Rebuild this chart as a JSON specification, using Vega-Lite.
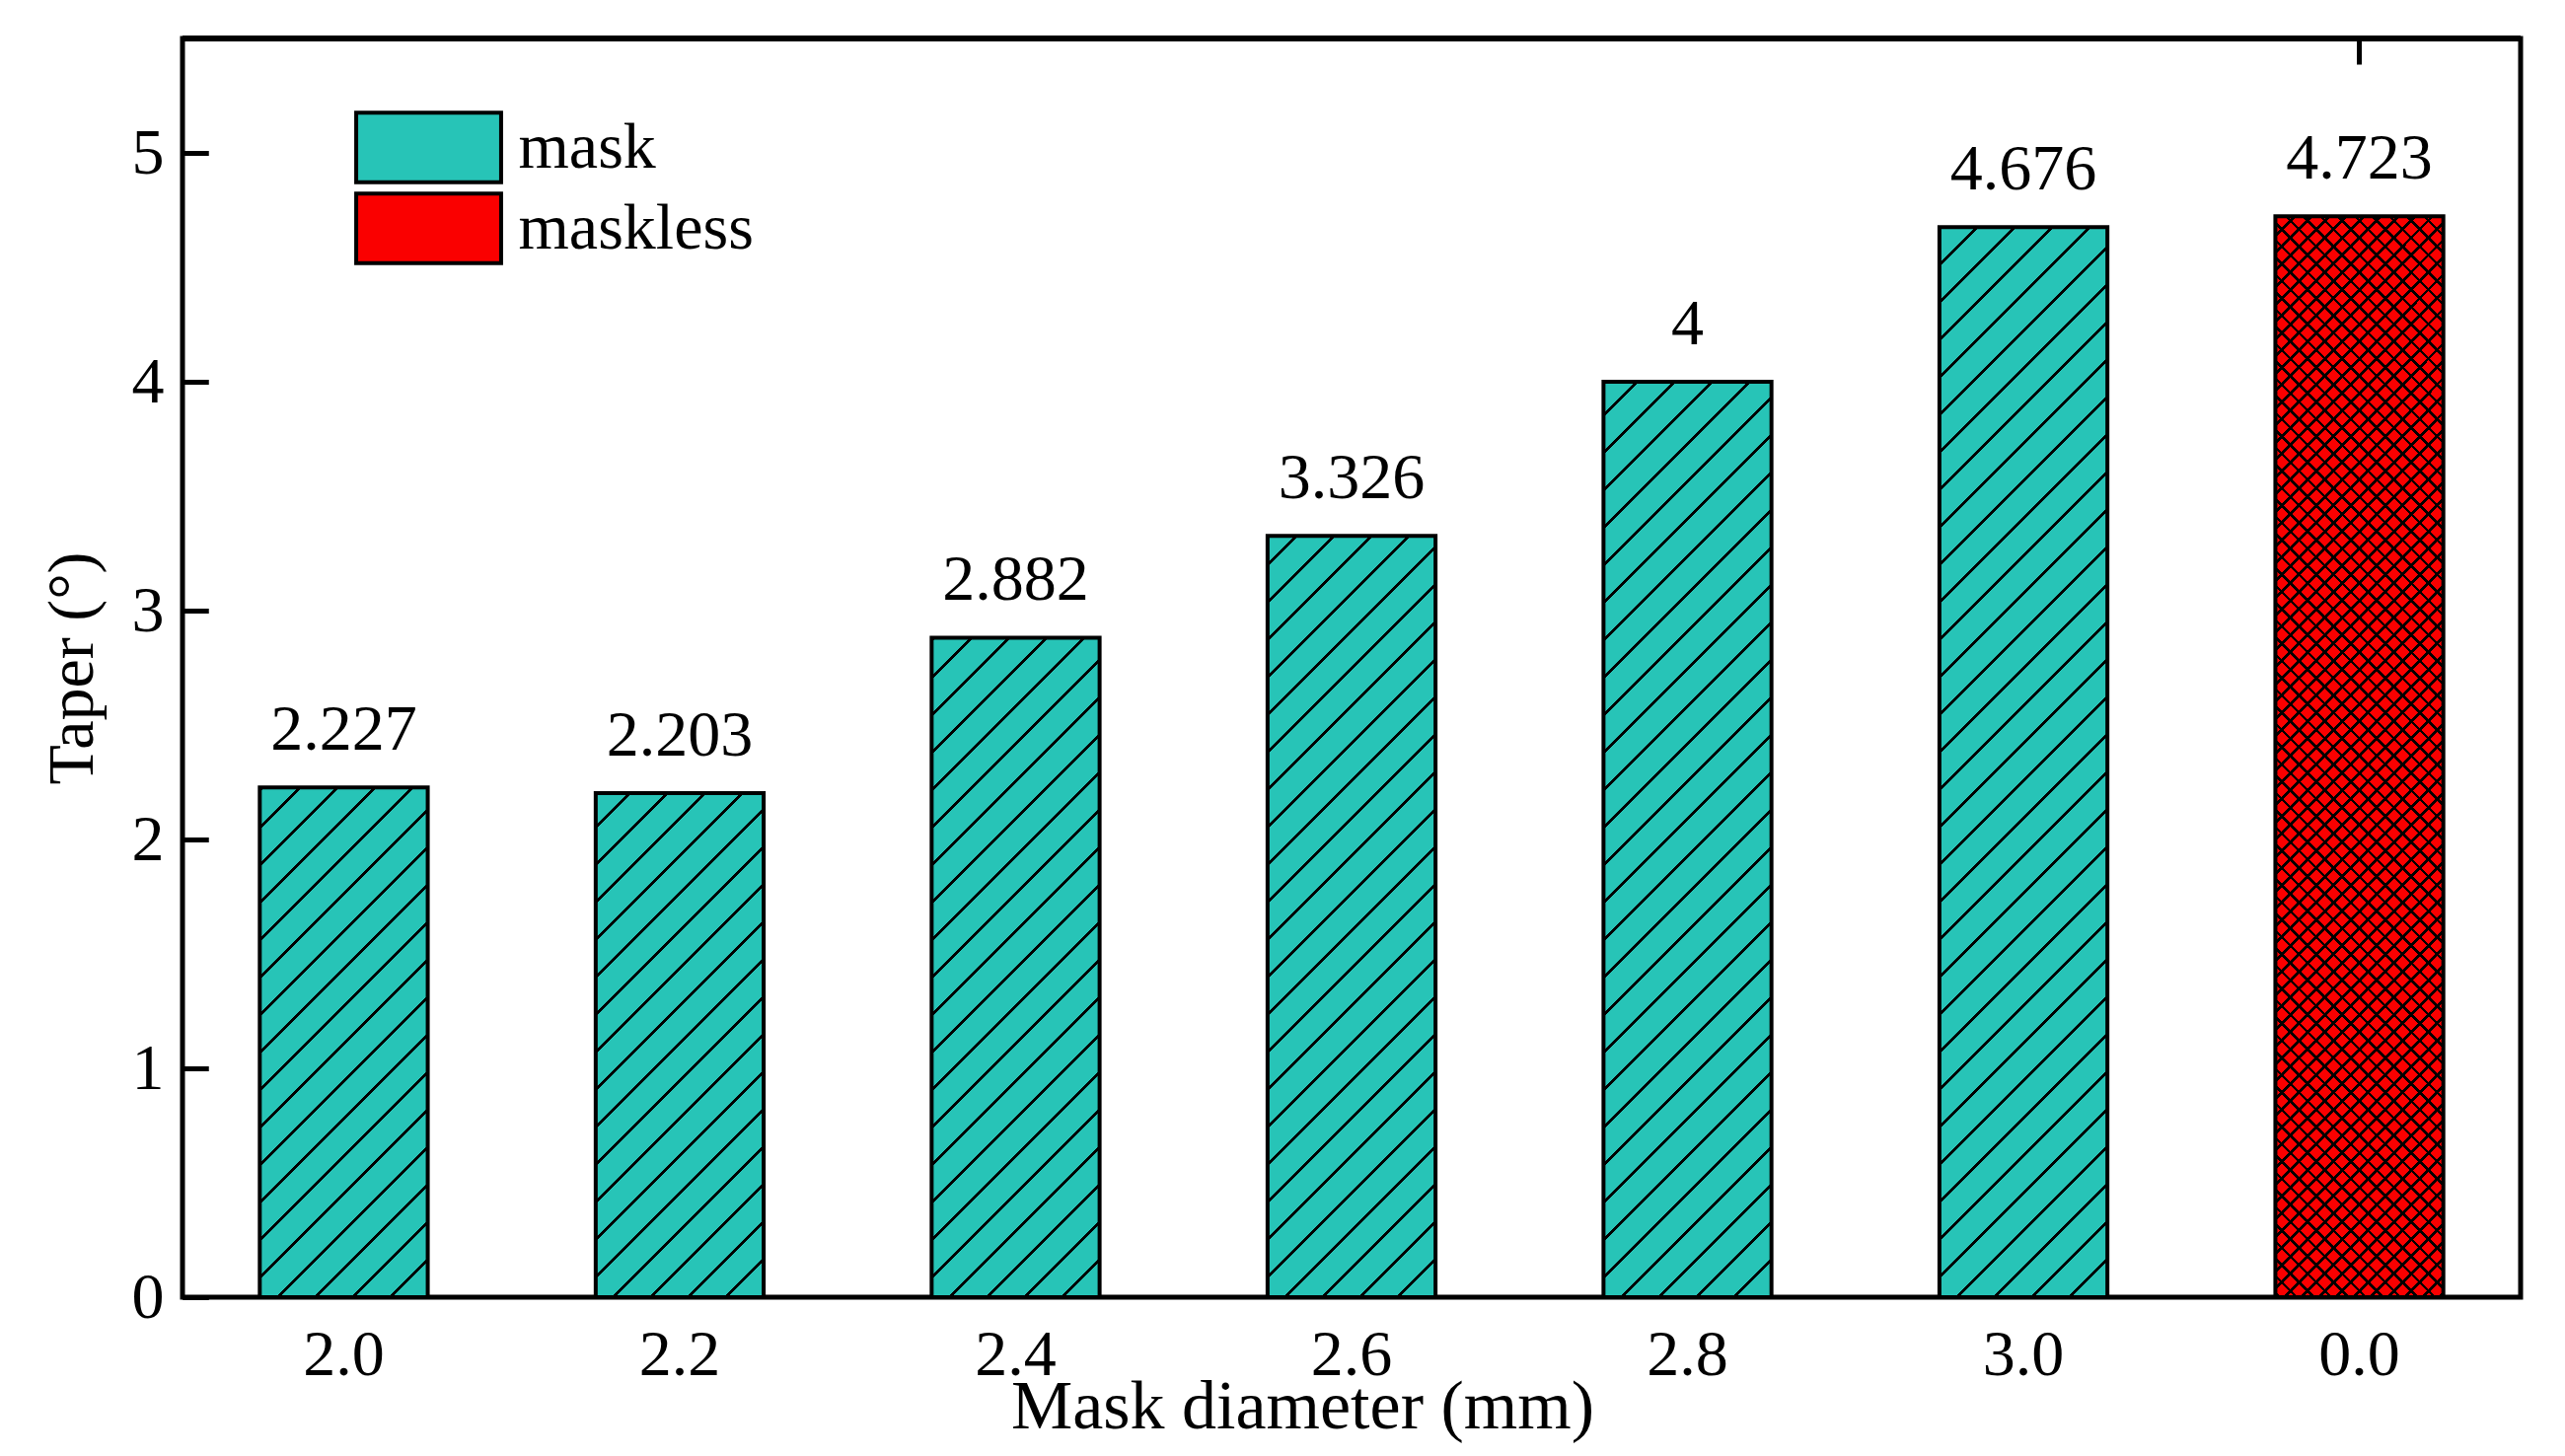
{
"$schema": "https://vega.github.io/schema/vega-lite/v6.json",
"width": 2370, "height": 1276,
"autosize": "none",
"padding": {"left": 185, "top": 39, "right": 45, "bottom": 161},
"background": "white",
"params": [{"name": "xs", "value": [
{"offset":0,"color":"#000"},{"offset":0.0022,"color":"#000"},{"offset":0.0022,"color":"#0000"},{"offset":0.01,"color":"#0000"},
{"offset":0.01,"color":"#000"},{"offset":0.0122,"color":"#000"},{"offset":0.0122,"color":"#0000"},{"offset":0.02,"color":"#0000"},
{"offset":0.02,"color":"#000"},{"offset":0.0222,"color":"#000"},{"offset":0.0222,"color":"#0000"},{"offset":0.03,"color":"#0000"},
{"offset":0.03,"color":"#000"},{"offset":0.0322,"color":"#000"},{"offset":0.0322,"color":"#0000"},{"offset":0.04,"color":"#0000"},
{"offset":0.04,"color":"#000"},{"offset":0.0422,"color":"#000"},{"offset":0.0422,"color":"#0000"},{"offset":0.05,"color":"#0000"},
{"offset":0.05,"color":"#000"},{"offset":0.0522,"color":"#000"},{"offset":0.0522,"color":"#0000"},{"offset":0.06,"color":"#0000"},
{"offset":0.06,"color":"#000"},{"offset":0.0622,"color":"#000"},{"offset":0.0622,"color":"#0000"},{"offset":0.07,"color":"#0000"},
{"offset":0.07,"color":"#000"},{"offset":0.0722,"color":"#000"},{"offset":0.0722,"color":"#0000"},{"offset":0.08,"color":"#0000"},
{"offset":0.08,"color":"#000"},{"offset":0.0822,"color":"#000"},{"offset":0.0822,"color":"#0000"},{"offset":0.09,"color":"#0000"},
{"offset":0.09,"color":"#000"},{"offset":0.0922,"color":"#000"},{"offset":0.0922,"color":"#0000"},{"offset":0.1,"color":"#0000"},
{"offset":0.1,"color":"#000"},{"offset":0.1022,"color":"#000"},{"offset":0.1022,"color":"#0000"},{"offset":0.11,"color":"#0000"},
{"offset":0.11,"color":"#000"},{"offset":0.1122,"color":"#000"},{"offset":0.1122,"color":"#0000"},{"offset":0.12,"color":"#0000"},
{"offset":0.12,"color":"#000"},{"offset":0.1222,"color":"#000"},{"offset":0.1222,"color":"#0000"},{"offset":0.13,"color":"#0000"},
{"offset":0.13,"color":"#000"},{"offset":0.1322,"color":"#000"},{"offset":0.1322,"color":"#0000"},{"offset":0.14,"color":"#0000"},
{"offset":0.14,"color":"#000"},{"offset":0.1422,"color":"#000"},{"offset":0.1422,"color":"#0000"},{"offset":0.15,"color":"#0000"},
{"offset":0.15,"color":"#000"},{"offset":0.1522,"color":"#000"},{"offset":0.1522,"color":"#0000"},{"offset":0.16,"color":"#0000"},
{"offset":0.16,"color":"#000"},{"offset":0.1622,"color":"#000"},{"offset":0.1622,"color":"#0000"},{"offset":0.17,"color":"#0000"},
{"offset":0.17,"color":"#000"},{"offset":0.1722,"color":"#000"},{"offset":0.1722,"color":"#0000"},{"offset":0.18,"color":"#0000"},
{"offset":0.18,"color":"#000"},{"offset":0.1822,"color":"#000"},{"offset":0.1822,"color":"#0000"},{"offset":0.19,"color":"#0000"},
{"offset":0.19,"color":"#000"},{"offset":0.1922,"color":"#000"},{"offset":0.1922,"color":"#0000"},{"offset":0.2,"color":"#0000"},
{"offset":0.2,"color":"#000"},{"offset":0.2022,"color":"#000"},{"offset":0.2022,"color":"#0000"},{"offset":0.21,"color":"#0000"},
{"offset":0.21,"color":"#000"},{"offset":0.2122,"color":"#000"},{"offset":0.2122,"color":"#0000"},{"offset":0.22,"color":"#0000"},
{"offset":0.22,"color":"#000"},{"offset":0.2222,"color":"#000"},{"offset":0.2222,"color":"#0000"},{"offset":0.23,"color":"#0000"},
{"offset":0.23,"color":"#000"},{"offset":0.2322,"color":"#000"},{"offset":0.2322,"color":"#0000"},{"offset":0.24,"color":"#0000"},
{"offset":0.24,"color":"#000"},{"offset":0.2422,"color":"#000"},{"offset":0.2422,"color":"#0000"},{"offset":0.25,"color":"#0000"},
{"offset":0.25,"color":"#000"},{"offset":0.2522,"color":"#000"},{"offset":0.2522,"color":"#0000"},{"offset":0.26,"color":"#0000"},
{"offset":0.26,"color":"#000"},{"offset":0.2622,"color":"#000"},{"offset":0.2622,"color":"#0000"},{"offset":0.27,"color":"#0000"},
{"offset":0.27,"color":"#000"},{"offset":0.2722,"color":"#000"},{"offset":0.2722,"color":"#0000"},{"offset":0.28,"color":"#0000"},
{"offset":0.28,"color":"#000"},{"offset":0.2822,"color":"#000"},{"offset":0.2822,"color":"#0000"},{"offset":0.29,"color":"#0000"},
{"offset":0.29,"color":"#000"},{"offset":0.2922,"color":"#000"},{"offset":0.2922,"color":"#0000"},{"offset":0.3,"color":"#0000"},
{"offset":0.3,"color":"#000"},{"offset":0.3022,"color":"#000"},{"offset":0.3022,"color":"#0000"},{"offset":0.31,"color":"#0000"},
{"offset":0.31,"color":"#000"},{"offset":0.3122,"color":"#000"},{"offset":0.3122,"color":"#0000"},{"offset":0.32,"color":"#0000"},
{"offset":0.32,"color":"#000"},{"offset":0.3222,"color":"#000"},{"offset":0.3222,"color":"#0000"},{"offset":0.33,"color":"#0000"},
{"offset":0.33,"color":"#000"},{"offset":0.3322,"color":"#000"},{"offset":0.3322,"color":"#0000"},{"offset":0.34,"color":"#0000"},
{"offset":0.34,"color":"#000"},{"offset":0.3422,"color":"#000"},{"offset":0.3422,"color":"#0000"},{"offset":0.35,"color":"#0000"},
{"offset":0.35,"color":"#000"},{"offset":0.3522,"color":"#000"},{"offset":0.3522,"color":"#0000"},{"offset":0.36,"color":"#0000"},
{"offset":0.36,"color":"#000"},{"offset":0.3622,"color":"#000"},{"offset":0.3622,"color":"#0000"},{"offset":0.37,"color":"#0000"},
{"offset":0.37,"color":"#000"},{"offset":0.3722,"color":"#000"},{"offset":0.3722,"color":"#0000"},{"offset":0.38,"color":"#0000"},
{"offset":0.38,"color":"#000"},{"offset":0.3822,"color":"#000"},{"offset":0.3822,"color":"#0000"},{"offset":0.39,"color":"#0000"},
{"offset":0.39,"color":"#000"},{"offset":0.3922,"color":"#000"},{"offset":0.3922,"color":"#0000"},{"offset":0.4,"color":"#0000"},
{"offset":0.4,"color":"#000"},{"offset":0.4022,"color":"#000"},{"offset":0.4022,"color":"#0000"},{"offset":0.41,"color":"#0000"},
{"offset":0.41,"color":"#000"},{"offset":0.4122,"color":"#000"},{"offset":0.4122,"color":"#0000"},{"offset":0.42,"color":"#0000"},
{"offset":0.42,"color":"#000"},{"offset":0.4222,"color":"#000"},{"offset":0.4222,"color":"#0000"},{"offset":0.43,"color":"#0000"},
{"offset":0.43,"color":"#000"},{"offset":0.4322,"color":"#000"},{"offset":0.4322,"color":"#0000"},{"offset":0.44,"color":"#0000"},
{"offset":0.44,"color":"#000"},{"offset":0.4422,"color":"#000"},{"offset":0.4422,"color":"#0000"},{"offset":0.45,"color":"#0000"},
{"offset":0.45,"color":"#000"},{"offset":0.4522,"color":"#000"},{"offset":0.4522,"color":"#0000"},{"offset":0.46,"color":"#0000"},
{"offset":0.46,"color":"#000"},{"offset":0.4622,"color":"#000"},{"offset":0.4622,"color":"#0000"},{"offset":0.47,"color":"#0000"},
{"offset":0.47,"color":"#000"},{"offset":0.4722,"color":"#000"},{"offset":0.4722,"color":"#0000"},{"offset":0.48,"color":"#0000"},
{"offset":0.48,"color":"#000"},{"offset":0.4822,"color":"#000"},{"offset":0.4822,"color":"#0000"},{"offset":0.49,"color":"#0000"},
{"offset":0.49,"color":"#000"},{"offset":0.4922,"color":"#000"},{"offset":0.4922,"color":"#0000"},{"offset":0.5,"color":"#0000"},
{"offset":0.5,"color":"#000"},{"offset":0.5022,"color":"#000"},{"offset":0.5022,"color":"#0000"},{"offset":0.51,"color":"#0000"},
{"offset":0.51,"color":"#000"},{"offset":0.5122,"color":"#000"},{"offset":0.5122,"color":"#0000"},{"offset":0.52,"color":"#0000"},
{"offset":0.52,"color":"#000"},{"offset":0.5222,"color":"#000"},{"offset":0.5222,"color":"#0000"},{"offset":0.53,"color":"#0000"},
{"offset":0.53,"color":"#000"},{"offset":0.5322,"color":"#000"},{"offset":0.5322,"color":"#0000"},{"offset":0.54,"color":"#0000"},
{"offset":0.54,"color":"#000"},{"offset":0.5422,"color":"#000"},{"offset":0.5422,"color":"#0000"},{"offset":0.55,"color":"#0000"},
{"offset":0.55,"color":"#000"},{"offset":0.5522,"color":"#000"},{"offset":0.5522,"color":"#0000"},{"offset":0.56,"color":"#0000"},
{"offset":0.56,"color":"#000"},{"offset":0.5622,"color":"#000"},{"offset":0.5622,"color":"#0000"},{"offset":0.57,"color":"#0000"},
{"offset":0.57,"color":"#000"},{"offset":0.5722,"color":"#000"},{"offset":0.5722,"color":"#0000"},{"offset":0.58,"color":"#0000"},
{"offset":0.58,"color":"#000"},{"offset":0.5822,"color":"#000"},{"offset":0.5822,"color":"#0000"},{"offset":0.59,"color":"#0000"},
{"offset":0.59,"color":"#000"},{"offset":0.5922,"color":"#000"},{"offset":0.5922,"color":"#0000"},{"offset":0.6,"color":"#0000"},
{"offset":0.6,"color":"#000"},{"offset":0.6022,"color":"#000"},{"offset":0.6022,"color":"#0000"},{"offset":0.61,"color":"#0000"},
{"offset":0.61,"color":"#000"},{"offset":0.6122,"color":"#000"},{"offset":0.6122,"color":"#0000"},{"offset":0.62,"color":"#0000"},
{"offset":0.62,"color":"#000"},{"offset":0.6222,"color":"#000"},{"offset":0.6222,"color":"#0000"},{"offset":0.63,"color":"#0000"},
{"offset":0.63,"color":"#000"},{"offset":0.6322,"color":"#000"},{"offset":0.6322,"color":"#0000"},{"offset":0.64,"color":"#0000"},
{"offset":0.64,"color":"#000"},{"offset":0.6422,"color":"#000"},{"offset":0.6422,"color":"#0000"},{"offset":0.65,"color":"#0000"},
{"offset":0.65,"color":"#000"},{"offset":0.6522,"color":"#000"},{"offset":0.6522,"color":"#0000"},{"offset":0.66,"color":"#0000"},
{"offset":0.66,"color":"#000"},{"offset":0.6622,"color":"#000"},{"offset":0.6622,"color":"#0000"},{"offset":0.67,"color":"#0000"},
{"offset":0.67,"color":"#000"},{"offset":0.6722,"color":"#000"},{"offset":0.6722,"color":"#0000"},{"offset":0.68,"color":"#0000"},
{"offset":0.68,"color":"#000"},{"offset":0.6822,"color":"#000"},{"offset":0.6822,"color":"#0000"},{"offset":0.69,"color":"#0000"},
{"offset":0.69,"color":"#000"},{"offset":0.6922,"color":"#000"},{"offset":0.6922,"color":"#0000"},{"offset":0.7,"color":"#0000"},
{"offset":0.7,"color":"#000"},{"offset":0.7022,"color":"#000"},{"offset":0.7022,"color":"#0000"},{"offset":0.71,"color":"#0000"},
{"offset":0.71,"color":"#000"},{"offset":0.7122,"color":"#000"},{"offset":0.7122,"color":"#0000"},{"offset":0.72,"color":"#0000"},
{"offset":0.72,"color":"#000"},{"offset":0.7222,"color":"#000"},{"offset":0.7222,"color":"#0000"},{"offset":0.73,"color":"#0000"}
]}],
"data": {"values": [
{"d": "2.0", "v": 2.227, "type": "mask"},
{"d": "2.2", "v": 2.203, "type": "mask"},
{"d": "2.4", "v": 2.882, "type": "mask"},
{"d": "2.6", "v": 3.326, "type": "mask"},
{"d": "2.8", "v": 4, "type": "mask"},
{"d": "3.0", "v": 4.676, "type": "mask"},
{"d": "0.0", "v": 4.723, "type": "maskless"}
]},
"layer": [
{
"mark": {"type": "bar"},
"encoding": {
"x": {"field": "d", "type": "nominal", "sort": null, "scale": {"paddingInner": 0.5, "paddingOuter": 0.23},
 "axis": {"title": "Mask diameter (mm)", "labelAngle": 0, "labelBaseline": "alphabetic", "labelPadding": 104, "ticks": true, "tickSize": -26, "tickBand": "center", "grid": true, "gridDash": [26, 4000], "gridWidth": 5, "gridColor": "black", "gridOpacity": 1, "titleX": 1135, "titleY": 132, "titleBaseline": "alphabetic", "titleAlign": "center", "titleAngle": 0}},
"y": {"field": "v", "type": "quantitative", "scale": {"domain": [0, 5.5], "nice": false},
 "axis": {"title": "Taper (°)", "values": [0, 1, 2, 3, 4, 5], "format": "d", "labelPadding": 45, "labelBaseline": "middle", "labelAlign": "right", "ticks": true, "tickSize": -26, "grid": true, "gridDash": [26, 4000], "gridWidth": 5, "gridColor": "black", "gridOpacity": 1, "titleX": -92, "titleY": 638, "titleAngle": -90, "titleBaseline": "alphabetic", "titleAlign": "center", "titleFontSize": 66}},
"fill": {"field": "type", "type": "nominal", "scale": {"domain": ["mask", "maskless"], "range": ["#27c4b7", "#fa0000"]},
 "legend": {"title": null, "orient": "none", "legendX": 176, "legendY": 72.5, "padding": 0,
  "symbolType": "M-2.04,-0.98H2.04V0.98H-2.04Z", "symbolSize": 5184, "symbolStrokeColor": "black", "symbolStrokeWidth": 4,
  "symbolOffset": 35.5, "labelOffset": 53, "labelFont": "Liberation Serif", "labelFontSize": 66, "labelColor": "black", "labelLimit": 600, "rowPadding": -8.5}}
}
},
{
"transform": [{"filter": "datum.type === 'mask'"}],
"mark": {"type": "bar", "fill": {"gradient": "linear", "x1": 0, "y1": 0, "x2": 0.3905, "y2": 2.926, "stops": [
{"offset":0,"color":"#000"},{"offset":0.001,"color":"#000"},{"offset":0.001,"color":"#0000"},{"offset":0.01,"color":"#0000"},
{"offset":0.01,"color":"#000"},{"offset":0.011,"color":"#000"},{"offset":0.011,"color":"#0000"},{"offset":0.02,"color":"#0000"},
{"offset":0.02,"color":"#000"},{"offset":0.021,"color":"#000"},{"offset":0.021,"color":"#0000"},{"offset":0.03,"color":"#0000"},
{"offset":0.03,"color":"#000"},{"offset":0.031,"color":"#000"},{"offset":0.031,"color":"#0000"},{"offset":0.04,"color":"#0000"},
{"offset":0.04,"color":"#000"},{"offset":0.041,"color":"#000"},{"offset":0.041,"color":"#0000"},{"offset":0.05,"color":"#0000"},
{"offset":0.05,"color":"#000"},{"offset":0.051,"color":"#000"},{"offset":0.051,"color":"#0000"},{"offset":0.06,"color":"#0000"},
{"offset":0.06,"color":"#000"},{"offset":0.061,"color":"#000"},{"offset":0.061,"color":"#0000"},{"offset":0.07,"color":"#0000"},
{"offset":0.07,"color":"#000"},{"offset":0.071,"color":"#000"},{"offset":0.071,"color":"#0000"},{"offset":0.08,"color":"#0000"},
{"offset":0.08,"color":"#000"},{"offset":0.081,"color":"#000"},{"offset":0.081,"color":"#0000"},{"offset":0.09,"color":"#0000"},
{"offset":0.09,"color":"#000"},{"offset":0.091,"color":"#000"},{"offset":0.091,"color":"#0000"},{"offset":0.1,"color":"#0000"},
{"offset":0.1,"color":"#000"},{"offset":0.101,"color":"#000"},{"offset":0.101,"color":"#0000"},{"offset":0.11,"color":"#0000"},
{"offset":0.11,"color":"#000"},{"offset":0.111,"color":"#000"},{"offset":0.111,"color":"#0000"},{"offset":0.12,"color":"#0000"},
{"offset":0.12,"color":"#000"},{"offset":0.121,"color":"#000"},{"offset":0.121,"color":"#0000"},{"offset":0.13,"color":"#0000"},
{"offset":0.13,"color":"#000"},{"offset":0.131,"color":"#000"},{"offset":0.131,"color":"#0000"},{"offset":0.14,"color":"#0000"},
{"offset":0.14,"color":"#000"},{"offset":0.141,"color":"#000"},{"offset":0.141,"color":"#0000"},{"offset":0.15,"color":"#0000"},
{"offset":0.15,"color":"#000"},{"offset":0.151,"color":"#000"},{"offset":0.151,"color":"#0000"},{"offset":0.16,"color":"#0000"},
{"offset":0.16,"color":"#000"},{"offset":0.161,"color":"#000"},{"offset":0.161,"color":"#0000"},{"offset":0.17,"color":"#0000"},
{"offset":0.17,"color":"#000"},{"offset":0.171,"color":"#000"},{"offset":0.171,"color":"#0000"},{"offset":0.18,"color":"#0000"},
{"offset":0.18,"color":"#000"},{"offset":0.181,"color":"#000"},{"offset":0.181,"color":"#0000"},{"offset":0.19,"color":"#0000"},
{"offset":0.19,"color":"#000"},{"offset":0.191,"color":"#000"},{"offset":0.191,"color":"#0000"},{"offset":0.2,"color":"#0000"},
{"offset":0.2,"color":"#000"},{"offset":0.201,"color":"#000"},{"offset":0.201,"color":"#0000"},{"offset":0.21,"color":"#0000"},
{"offset":0.21,"color":"#000"},{"offset":0.211,"color":"#000"},{"offset":0.211,"color":"#0000"},{"offset":0.22,"color":"#0000"},
{"offset":0.22,"color":"#000"},{"offset":0.221,"color":"#000"},{"offset":0.221,"color":"#0000"},{"offset":0.23,"color":"#0000"},
{"offset":0.23,"color":"#000"},{"offset":0.231,"color":"#000"},{"offset":0.231,"color":"#0000"},{"offset":0.24,"color":"#0000"},
{"offset":0.24,"color":"#000"},{"offset":0.241,"color":"#000"},{"offset":0.241,"color":"#0000"},{"offset":0.25,"color":"#0000"},
{"offset":0.25,"color":"#000"},{"offset":0.251,"color":"#000"},{"offset":0.251,"color":"#0000"},{"offset":0.26,"color":"#0000"},
{"offset":0.26,"color":"#000"},{"offset":0.261,"color":"#000"},{"offset":0.261,"color":"#0000"},{"offset":0.27,"color":"#0000"},
{"offset":0.27,"color":"#000"},{"offset":0.271,"color":"#000"},{"offset":0.271,"color":"#0000"},{"offset":0.28,"color":"#0000"},
{"offset":0.28,"color":"#000"},{"offset":0.281,"color":"#000"},{"offset":0.281,"color":"#0000"},{"offset":0.29,"color":"#0000"},
{"offset":0.29,"color":"#000"},{"offset":0.291,"color":"#000"},{"offset":0.291,"color":"#0000"},{"offset":0.3,"color":"#0000"},
{"offset":0.3,"color":"#000"},{"offset":0.301,"color":"#000"},{"offset":0.301,"color":"#0000"},{"offset":0.31,"color":"#0000"},
{"offset":0.31,"color":"#000"},{"offset":0.311,"color":"#000"},{"offset":0.311,"color":"#0000"},{"offset":0.32,"color":"#0000"},
{"offset":0.32,"color":"#000"},{"offset":0.321,"color":"#000"},{"offset":0.321,"color":"#0000"},{"offset":0.33,"color":"#0000"},
{"offset":0.33,"color":"#000"},{"offset":0.331,"color":"#000"},{"offset":0.331,"color":"#0000"},{"offset":0.34,"color":"#0000"},
{"offset":0.34,"color":"#000"},{"offset":0.341,"color":"#000"},{"offset":0.341,"color":"#0000"},{"offset":0.35,"color":"#0000"},
{"offset":0.35,"color":"#000"},{"offset":0.351,"color":"#000"},{"offset":0.351,"color":"#0000"},{"offset":0.36,"color":"#0000"},
{"offset":0.36,"color":"#000"},{"offset":0.361,"color":"#000"},{"offset":0.361,"color":"#0000"},{"offset":0.37,"color":"#0000"},
{"offset":0.37,"color":"#000"},{"offset":0.371,"color":"#000"},{"offset":0.371,"color":"#0000"},{"offset":0.38,"color":"#0000"},
{"offset":0.38,"color":"#000"},{"offset":0.381,"color":"#000"},{"offset":0.381,"color":"#0000"},{"offset":0.39,"color":"#0000"}
]}},
"encoding": {
"x": {"field": "d", "type": "nominal", "sort": null},
"y": {"datum": 0},
"y2": {"datum": 5.5}
}
},
{
"transform": [{"filter": "datum.type === 'mask'"}],
"mark": {"type": "bar", "fill": "white", "stroke": "white", "strokeWidth": 2},
"encoding": {
"x": {"field": "d", "type": "nominal", "sort": null},
"y": {"field": "v", "type": "quantitative"},
"y2": {"datum": 5.5}
}
},
{
"transform": [{"filter": "datum.type === 'maskless'"}],
"mark": {"type": "bar", "fill": {"expr": "{gradient:'linear',x1:0,y1:0,x2:0.2424,y2:1.5595,stops:xs}"}},
"encoding": {
"x": {"field": "d", "type": "nominal", "sort": null},
"y": {"field": "v", "type": "quantitative"}
}
},
{
"transform": [{"filter": "datum.type === 'maskless'"}],
"mark": {"type": "bar", "fill": {"expr": "{gradient:'linear',x1:1,y1:0,x2:0.7576,y2:1.5595,stops:xs}"}},
"encoding": {
"x": {"field": "d", "type": "nominal", "sort": null},
"y": {"field": "v", "type": "quantitative"}
}
},
{
"mark": {"type": "bar", "fill": "transparent", "stroke": "black", "strokeWidth": 4},
"encoding": {
"x": {"field": "d", "type": "nominal", "sort": null},
"y": {"field": "v", "type": "quantitative"}
}
},
{
"mark": {"type": "text", "dy": -38, "baseline": "alphabetic", "align": "center", "fontSize": 66, "font": "Liberation Serif", "color": "black"},
"encoding": {
"x": {"field": "d", "type": "nominal", "sort": null},
"y": {"field": "v", "type": "quantitative"},
"text": {"field": "v", "type": "nominal"}
}
},
{
"mark": {"type": "rule", "color": "black", "strokeWidth": 5},
"encoding": {"y": {"datum": 5.5}}
}
],
"config": {
"font": "Liberation Serif",
"view": {"stroke": "black", "strokeWidth": 5},
"axis": {"labelFont": "Liberation Serif", "titleFont": "Liberation Serif", "labelFontSize": 66, "titleFontSize": 70, "titleFontWeight": "normal",
 "labelColor": "black", "titleColor": "black", "tickColor": "black", "tickWidth": 5, "domain": false, "zindex": 1}
}
}
